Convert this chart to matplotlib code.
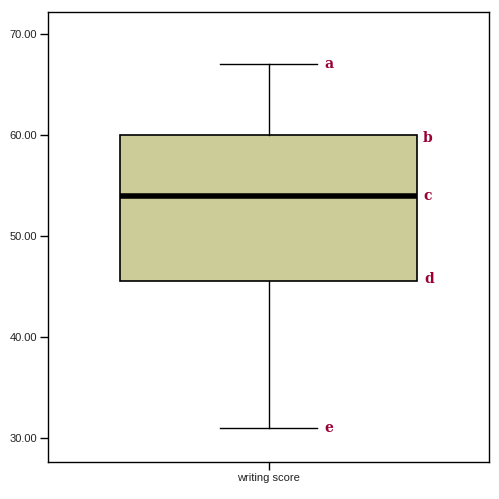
import matplotlib
matplotlib.use('Agg')
import matplotlib.pyplot as plt
from matplotlib.patches import Rectangle

# boxplot summary values (writing score)
whisker_low = 31
q1 = 45.5
median = 54
q3 = 60
whisker_high = 67
labels = ['a', 'b', 'c', 'd', 'e']
yticks = [30, 40, 50, 60, 70]
category = 'writing score'

plt.rcParams['font.family'] = ['Liberation Sans', 'DejaVu Sans']

W, H = 499, 499
fig = plt.figure(figsize=(W / 100, H / 100), dpi=100)
ax = fig.add_axes([48 / W, (H - 462) / H, (489 - 48) / W, (462 - 12) / H])

pos = 1.0
box_w = 1.347
cap_w = 0.444

ax.add_patch(Rectangle((pos - box_w / 2, q1), box_w, q3 - q1,
                       facecolor='#cccc99', edgecolor='black', linewidth=1.2, zorder=2))
ax.plot([pos - box_w / 2, pos + box_w / 2], [median, median], color='black', linewidth=4, zorder=3,
        solid_capstyle='butt')
ax.plot([pos, pos], [q3, whisker_high], color='black', linewidth=1)
ax.plot([pos, pos], [whisker_low, q1], color='black', linewidth=1)
ax.plot([pos - cap_w / 2, pos + cap_w / 2], [whisker_high, whisker_high], color='black', linewidth=1)
ax.plot([pos - cap_w / 2, pos + cap_w / 2], [whisker_low, whisker_low], color='black', linewidth=1)

lab_kw = dict(color='#990033', fontsize=10, fontweight='bold', family='DejaVu Serif',
              va='center', ha='left')
ax.text(pos + cap_w / 2 + 0.03, whisker_high, labels[0], **lab_kw)
ax.text(pos + box_w / 2 + 0.025, q3 - 0.3, labels[1], **lab_kw)
ax.text(pos + box_w / 2 + 0.03, median, labels[2], **lab_kw)
ax.text(pos + box_w / 2 + 0.035, q1 + 0.2, labels[3], **lab_kw)
ax.text(pos + cap_w / 2 + 0.03, whisker_low, labels[4], **lab_kw)

ax.set_xlim(0, 2)
ax.set_ylim(27.63, 72.18)
ax.set_yticks(yticks)
ax.set_yticklabels(['%.2f' % v for v in yticks])
ax.set_xticks([pos])
ax.set_xticklabels([category])
ax.tick_params(axis='both', direction='out', length=6, width=1, labelsize=8, pad=2,
               labelcolor='#222222')
for s in ax.spines.values():
    s.set_linewidth(1)

fig.savefig('out.png', dpi=100)
